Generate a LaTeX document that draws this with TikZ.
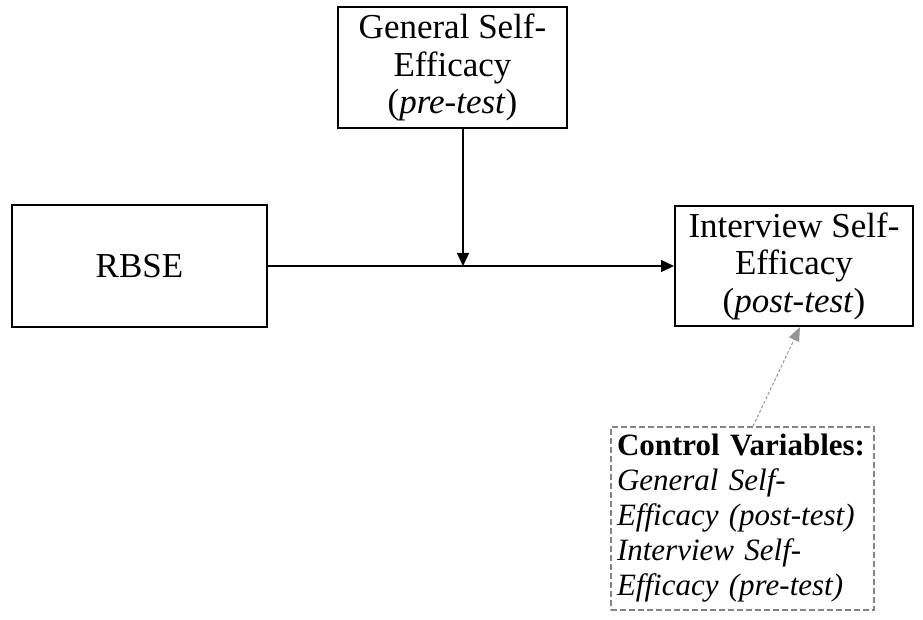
\documentclass[tikz,border=0pt]{standalone}
\usepackage{fontspec}
\setmainfont{Liberation Serif}
\usetikzlibrary{arrows.meta, positioning}
\definecolor{vgrey}{HTML}{858585}
\definecolor{vgreyarrow}{HTML}{969696}
\tikzset{
  box/.style={rectangle, draw=black, line width=2pt, align=center, inner sep=0pt,
              font=\fontsize{35}{37.5}\selectfont},
  ctrlbox/.style={rectangle, draw=vgrey, dash pattern=on 6pt off 3pt, line width=1.5pt,
              align=left, inner sep=6pt, text width=251pt, minimum height=183pt,
              font=\fontsize{31}{35}\selectfont},
  flow/.style={-{Triangle[length=13pt, width=12pt]}, draw=black, line width=1.4pt},
  ctrlflow/.style={-{Triangle[length=14pt, width=11pt]}, draw=vgreyarrow,
              dash pattern=on 3pt off 2pt, line width=1pt}
}

\begin{document}
\begin{tikzpicture}[x=1pt, y=1pt]
  \useasboundingbox (0,0) rectangle (923,-620);

  % predictor and outcome
  \node[box, minimum width=255pt, minimum height=122pt] (rbse) at (139.5,-266) {RBSE};
  \node[box, right=406pt of rbse, minimum width=238pt, minimum height=120pt] (ise)
    {Interview Self-\\Efficacy\\(\textit{post-test})};

  % moderator
  \node[box, minimum width=229pt, minimum height=121pt] (gse) at (452.5,-67.5)
    {General Self-\\Efficacy\\(\textit{pre-test})};

  % controls
  \node[ctrlbox] (ctrl) at (742.5,-518.5)
    {\textbf{Control Variables:}\\\textit{General Self-}\\\textit{Efficacy (post-test)}\\%
     \textit{Interview Self-}\\\textit{Efficacy (pre-test)}};

  \coordinate (meet) at ([xshift=10.5pt]gse.south |- rbse.east);
  \draw[flow] (rbse.east) -- (ise.west);
  \draw[flow] ([xshift=10.5pt]gse.south) -- (meet);
  \draw[ctrlflow] ([xshift=10.5pt]ctrl.north) -- ([xshift=6pt]ise.south);
\end{tikzpicture}
\end{document}
